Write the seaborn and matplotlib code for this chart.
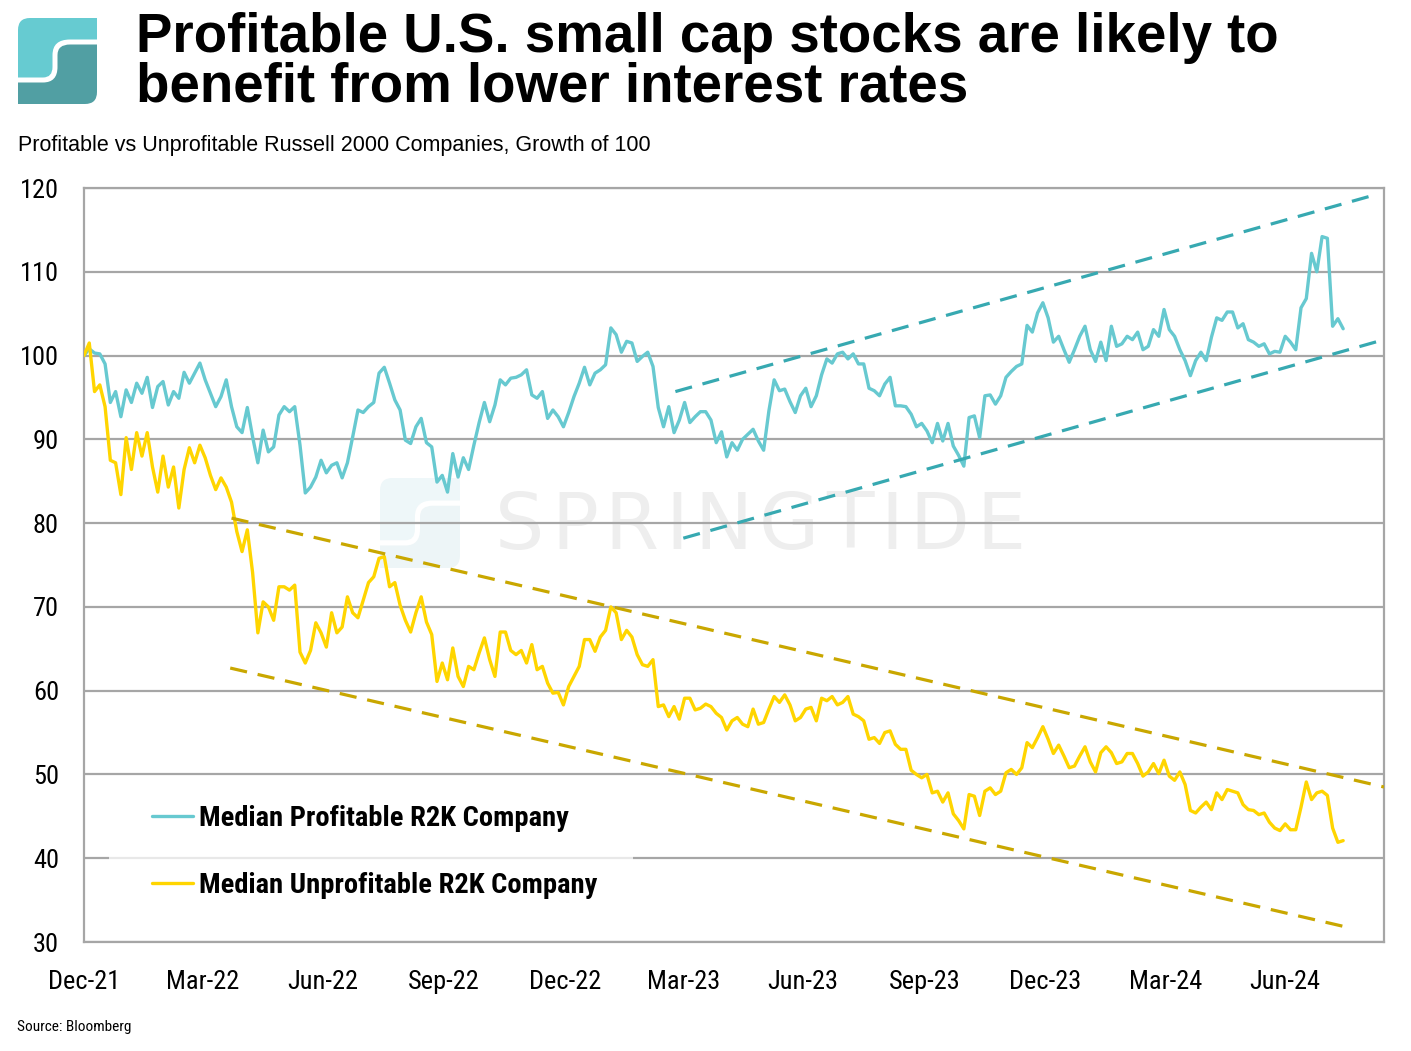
import numpy as np
import pandas as pd
import matplotlib
matplotlib.use("Agg")
import matplotlib.pyplot as plt
import matplotlib.font_manager as fm
import seaborn as sns
from matplotlib.path import Path
from matplotlib.patches import PathPatch, Rectangle
from matplotlib.lines import Line2D

# ---------------- data ----------------
start_date = "2021-12-31"
step = "4D"

profitable = [
    100.0, 100.8, 100.3, 100.2, 99.0, 94.4, 95.7, 92.7, 95.9, 94.4,
    96.7, 95.5, 97.4, 93.8, 96.3, 96.9, 94.1, 95.7, 94.9, 98.0,
    96.7, 97.9, 99.1, 97.1, 95.5, 93.9, 95.1, 97.1, 93.9, 91.5,
    90.8, 93.8, 90.3, 87.2, 91.1, 88.5, 89.1, 92.9, 93.9, 93.3,
    93.9, 89.3, 83.6, 84.3, 85.5, 87.5, 86.0, 86.9, 87.2, 85.4,
    87.2, 90.3, 93.5, 93.2, 93.9, 94.4, 97.9, 98.6, 96.7, 94.7,
    93.5, 89.9, 89.5, 91.5, 92.5, 89.6, 89.1, 84.9, 85.7, 83.7,
    88.3, 85.5, 87.8, 86.4, 89.3, 92.0, 94.4, 92.1, 94.1, 97.1,
    96.5, 97.3, 97.4, 97.7, 98.3, 95.3, 94.9, 95.7, 92.5, 93.5,
    92.7, 91.5, 93.2, 95.1, 96.7, 98.6, 96.5, 97.9, 98.3, 98.9,
    103.3, 102.5, 100.4, 101.7, 101.5, 99.3, 99.9, 100.4, 98.7, 93.8,
    91.5, 93.9, 90.8, 92.3, 94.4, 92.0, 92.7, 93.3, 93.3, 92.3,
    89.6, 90.9, 87.9, 89.6, 88.7, 90.0, 90.6, 91.2, 89.8, 88.7,
    93.4, 97.1, 95.8, 96.0, 94.5, 93.2, 95.2, 96.1, 93.9, 95.2,
    97.7, 99.6, 99.1, 100.2, 100.4, 99.6, 100.2, 99.0, 99.0, 96.1,
    95.8, 95.2, 96.6, 97.4, 94.0, 94.0, 93.9, 93.0, 91.5, 91.9,
    91.0, 89.6, 91.9, 89.8, 91.9, 89.2, 88.1, 86.8, 92.6, 92.8,
    90.2, 95.2, 95.3, 94.2, 95.2, 97.4, 98.1, 98.7, 99.0, 103.6,
    102.8, 105.1, 106.3, 104.5, 101.6, 102.3, 100.7, 99.2, 100.7, 102.3,
    103.5, 100.7, 99.3, 101.6, 99.4, 103.5, 101.1, 101.4, 102.3, 101.9,
    102.8, 100.7, 101.1, 103.1, 102.3, 105.5, 103.1, 102.3, 100.7, 99.4,
    97.6, 99.4, 100.4, 99.4, 102.2, 104.5, 104.2, 105.2, 105.2, 103.3,
    103.8, 101.9, 101.6, 101.1, 101.4, 100.2, 100.5, 100.4, 102.3, 101.6,
    100.7, 105.7, 106.8, 112.2, 110.0, 114.2, 114.0, 103.5, 104.4, 103.2,
]

unprofitable = [
    100.0, 101.5, 95.7, 96.5, 93.9, 87.5, 87.2, 83.4, 90.2, 86.4,
    90.8, 88.0, 90.8, 86.7, 83.7, 88.0, 84.3, 86.7, 81.8, 86.4,
    89.0, 87.2, 89.3, 87.8, 85.7, 84.0, 85.4, 84.3, 82.5, 79.0,
    76.6, 79.2, 74.1, 66.9, 70.6, 70.0, 68.4, 72.4, 72.4, 72.0,
    72.6, 64.6, 63.3, 64.8, 68.1, 66.9, 65.2, 69.3, 66.9, 67.6,
    71.2, 69.3, 68.7, 70.8, 72.9, 73.6, 75.8, 76.0, 72.4, 72.9,
    70.2, 68.4, 67.0, 69.3, 71.2, 68.2, 66.7, 61.1, 63.3, 61.3,
    65.1, 61.7, 60.5, 62.9, 62.5, 64.5, 66.3, 63.7, 61.7, 67.0,
    67.0, 64.8, 64.3, 64.8, 63.3, 65.5, 62.5, 62.9, 60.9, 59.7,
    59.8, 58.3, 60.5, 61.7, 62.9, 66.1, 66.1, 64.7, 66.4, 67.2,
    70.0, 69.3, 66.1, 67.2, 66.4, 64.3, 63.1, 62.9, 63.7, 58.1,
    58.3, 56.9, 58.1, 56.6, 59.1, 59.1, 57.7, 57.9, 58.4, 58.1,
    57.3, 56.8, 55.3, 56.4, 56.8, 56.0, 55.7, 57.8, 56.0, 56.2,
    57.8, 59.3, 58.6, 59.5, 58.3, 56.4, 56.8, 57.8, 58.0, 56.4,
    59.1, 58.8, 59.3, 58.3, 58.6, 59.3, 57.2, 56.9, 56.4, 54.2,
    54.4, 53.7, 55.0, 55.2, 53.6, 53.0, 53.0, 50.5, 50.0, 49.6,
    50.0, 47.8, 48.0, 46.7, 47.8, 45.3, 44.5, 43.5, 47.6, 47.4,
    45.1, 48.0, 48.4, 47.6, 48.0, 50.2, 50.6, 50.0, 50.8, 53.8,
    53.2, 54.4, 55.7, 54.2, 52.5, 53.5, 52.2, 50.8, 51.0, 52.2,
    53.3, 51.5, 50.3, 52.6, 53.3, 52.6, 51.3, 51.5, 52.5, 52.5,
    51.3, 49.8, 50.3, 51.3, 50.1, 51.7, 49.8, 49.3, 50.3, 48.8,
    45.7, 45.4, 46.1, 46.7, 45.8, 47.8, 47.0, 48.2, 48.0, 47.8,
    46.4, 45.8, 45.7, 45.2, 45.4, 44.3, 43.6, 43.3, 44.1, 43.4,
    43.4, 46.1, 49.1, 47.0, 47.8, 48.0, 47.5, 43.6, 41.9, 42.1,
]

series_names = ["Median Profitable R2K Company", "Median Unprofitable R2K Company"]

# trend channels (start/end)
trend_start_dates = ["2023-03-25", "2023-03-31", "2022-04-22", "2022-04-21"]
trend_end_dates = ["2024-09-02", "2024-09-13", "2024-09-13", "2024-08-15"]
trend_start_vals = [95.7, 78.2, 80.6, 62.7]
trend_end_vals = [119.0, 101.9, 48.5, 31.8]
trend_group = ["profitable", "profitable", "unprofitable", "unprofitable"]

tick_dates = ["2021-12-31", "2022-03-31", "2022-06-30", "2022-09-30", "2022-12-31",
              "2023-03-31", "2023-06-30", "2023-09-30", "2023-12-31", "2024-03-31",
              "2024-06-30"]
tick_labels = ["Dec-21", "Mar-22", "Jun-22", "Sep-22", "Dec-22", "Mar-23", "Jun-23",
               "Sep-23", "Dec-23", "Mar-24", "Jun-24"]
x_range = ["2021-12-31", "2024-09-13"]
y_ticks = [30, 40, 50, 60, 70, 80, 90, 100, 110, 120]

# ---------------- style ----------------
COL_P = "#67C9D0"
COL_U = "#FFD500"
COL_PT = "#37A9B1"
COL_UT = "#C9A700"
GRID = "#A6A6A6"

sns.set_theme(style="white")
plt.rcParams["font.family"] = ["Liberation Sans", "DejaVu Sans"]
plt.rcParams["text.color"] = "black"


# ---- pick an installed narrow / condensed sans face ----
def _w(v):
    if isinstance(v, str):
        return fm.weight_dict.get(v, 400)
    return int(v)


NARROW_NAMES = ["Liberation Sans Narrow", "Arial Narrow", "Roboto Condensed",
                "Nimbus Sans Narrow", "Open Sans Condensed", "Noto Sans Condensed",
                "PT Sans Narrow", "Archivo Narrow"]
COND_FAMILIES = ["Roboto", "Noto Sans", "Open Sans", "Liberation Sans", "DejaVu Sans",
                 "Lato", "Inter"]


def narrow_font(weight):
    best, best_key = None, None
    for f in fm.fontManager.ttflist:
        if f.style != "normal":
            continue
        if f.name in NARROW_NAMES:
            k1 = NARROW_NAMES.index(f.name)
        elif str(f.stretch) in ("condensed", "semi-condensed") and f.name in COND_FAMILIES:
            k1 = 20 + COND_FAMILIES.index(f.name) + (0 if str(f.stretch) == "condensed" else 0.5)
        else:
            continue
        key = (abs(_w(f.weight) - weight) > 150, k1, abs(_w(f.weight) - weight))
        if best_key is None or key < best_key:
            best, best_key = f, key
    if best is None:
        return fm.FontProperties(family="DejaVu Sans", weight=weight, stretch="condensed")
    return fm.FontProperties(fname=best.fname)


FP_REG = narrow_font(400)
FP_BOLD = narrow_font(700)


def fp(base, size):
    p = base.copy()
    p.set_size(size)
    return p


dates = pd.date_range(start_date, periods=len(profitable), freq=step)
df = pd.DataFrame({
    "date": list(dates) * 2,
    "value": profitable + unprofitable,
    "series": [series_names[0]] * len(profitable) + [series_names[1]] * len(unprofitable),
})

W, H = 1411, 1051
fig = plt.figure(figsize=(W / 100, H / 100), dpi=100)
fig.patch.set_facecolor("white")


def logo(axl, c1, c2):
    M, L, C, Z = Path.MOVETO, Path.LINETO, Path.CURVE3, Path.CLOSEPOLY
    light = Path([(0, 59.5), (0, 12), (0, 0), (12, 0), (79, 0), (79, 21.5), (52, 21.5),
                  (34.5, 21.5), (34.5, 37), (34.5, 49), (34.5, 59.5), (25, 59.5), (0, 59.5)],
                 [M, L, C, C, L, L, L, C, C, L, C, C, Z])
    dark = Path([(0, 64.5), (25, 64.5), (39.5, 64.5), (39.5, 49), (39.5, 37), (39.5, 26.5),
                 (52, 26.5), (79, 26.5), (79, 74), (79, 86), (67, 86), (0, 86), (0, 64.5)],
                [M, L, C, C, L, C, C, L, L, C, C, L, Z])
    axl.add_patch(PathPatch(light, facecolor=c1, edgecolor="none"))
    axl.add_patch(PathPatch(dark, facecolor=c2, edgecolor="none"))
    axl.set_xlim(0, 79)
    axl.set_ylim(86, 0)
    axl.axis("off")


# header logo
logo(fig.add_axes([18 / W, 1 - 104 / H, 79 / W, 86 / H]), "#66CBD1", "#519FA3")

# watermark logo + tracked "SPRINGTIDE"
wm = fig.add_axes([380 / W, 1 - 568 / H, 80 / W, 90 / H], zorder=0)
logo(wm, "#EEF7F9", "#EDF5F7")

renderer = fig.canvas.get_renderer()
wm_word = "SPRINGTIDE"
wm_left, wm_right = 495, 1025
letters = []
for ch in wm_word:
    t = fig.text(0, 1 - 527 / H, ch, fontsize=56, color="#EEEEEE", family="DejaVu Sans",
                 va="center", ha="left", zorder=0.5)
    letters.append(t)
widths = [t.get_window_extent(renderer).width for t in letters]
gap = (wm_right - wm_left - sum(widths)) / (len(letters) - 1)
xpos = wm_left
for t, wdt in zip(letters, widths):
    t.set_x(xpos / W)
    xpos += wdt + gap

# main axes
ax = fig.add_axes([84 / W, 1 - 942 / H, 1300 / W, 754 / H], zorder=2)
ax.set_facecolor("none")

sns.lineplot(data=df, x="date", y="value", hue="series",
             palette={series_names[0]: COL_P, series_names[1]: COL_U},
             linewidth=2.4, ax=ax, legend=False, sort=False, zorder=3)

for sd, ed, sv, ev, g in zip(trend_start_dates, trend_end_dates, trend_start_vals,
                             trend_end_vals, trend_group):
    ax.plot(pd.to_datetime([sd, ed]), [sv, ev], color=COL_PT if g == "profitable" else COL_UT,
            linewidth=2.3, dashes=(5.4, 3.4), zorder=4, dash_capstyle="butt")

ax.set_xlim(pd.to_datetime(x_range[0]), pd.to_datetime(x_range[1]))
ax.set_ylim(30, 120)
ax.set_yticks(y_ticks)
ax.set_yticklabels([str(v) for v in y_ticks])
ax.set_xticks(pd.to_datetime(tick_dates))
ax.set_xticklabels(tick_labels)
ax.set_xlabel("")
ax.set_ylabel("")
ax.grid(axis="y", color=GRID, linewidth=1.6, zorder=1)
ax.grid(axis="x", visible=False)
ax.set_axisbelow(True)
for sp in ax.spines.values():
    sp.set_visible(True)
    sp.set_color(GRID)
    sp.set_linewidth(1.6)
ax.tick_params(axis="y", length=0, pad=18, colors="black")
ax.tick_params(axis="x", direction="in", length=6, width=1.6, color=GRID,
               pad=20, labelcolor="black")
for lab in ax.get_xticklabels() + ax.get_yticklabels():
    lab.set_fontproperties(fp(FP_REG, 19))
    lab.set_color("black")

# translucent legend backdrop (fades the 40 gridline behind the legend)
ax.add_patch(Rectangle((0.0192, 0.012), 0.403, 0.188, transform=ax.transAxes,
                       facecolor="white", edgecolor="none", alpha=0.75, zorder=2.5))

handles = [Line2D([0], [0], color=COL_P, linewidth=2.4),
           Line2D([0], [0], color=COL_U, linewidth=2.4)]
leg = ax.legend(handles, series_names, loc="upper left",
                bbox_to_anchor=(0.0523, 0.1817), frameon=False,
                prop=fp(FP_BOLD, 20.5),
                handlelength=1.45, handletextpad=0.2, borderpad=0,
                labelspacing=1.4, borderaxespad=0)
leg.set_zorder(5)
for t in leg.get_texts():
    t.set_color("black")

# titles
fig.text(136 / W, 1 - 12 / H,
         "Profitable U.S. small cap stocks are likely to\nbenefit from lower interest rates",
         fontsize=39.3, weight="bold", family=["Liberation Sans", "DejaVu Sans"],
         color="black", va="top", ha="left", linespacing=0.93)
fig.text(18 / W, 1 - 145 / H, "Profitable vs Unprofitable Russell 2000 Companies, Growth of 100",
         fontsize=15.5, family=["Liberation Sans", "DejaVu Sans"], color="black",
         va="center", ha="left")
fig.text(17 / W, 1 - 1027 / H, "Source: Bloomberg", fontproperties=fp(FP_REG, 11),
         color="black", va="center", ha="left")

fig.savefig("out.png", dpi=100, facecolor="white")
